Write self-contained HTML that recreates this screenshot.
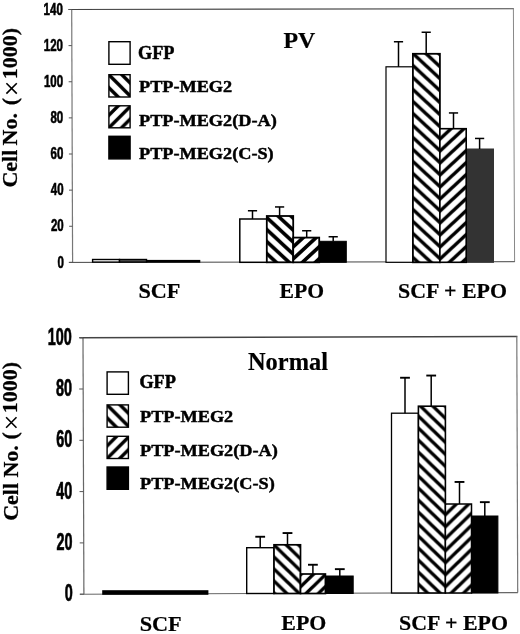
<!DOCTYPE html>
<html><head><meta charset="utf-8"><title>chart</title>
<style>
html,body{margin:0;padding:0;background:#fff;}
body{width:520px;height:634px;overflow:hidden;font-family:"Liberation Sans",sans-serif;}
svg{display:block;will-change:transform;}
</style></head><body>
<svg width="520" height="634" viewBox="0 0 520 634">
<defs>
<pattern id="p0" patternUnits="userSpaceOnUse" width="12.903" height="12.0" x="293.10" y="242.00"><rect width="13.903" height="13.0" fill="#fff"/><path d="M-12.903 -24.000L25.806 12.000M-12.903 -12.000L25.806 24.000M-12.903 0.000L25.806 36.000" stroke="#000" stroke-width="3.6" fill="none"/></pattern>
<pattern id="p1" patternUnits="userSpaceOnUse" width="12.903" height="12.0" x="293.10" y="247.00"><rect width="13.903" height="13.0" fill="#fff"/><path d="M-12.903 12.000L25.806 -24.000M-12.903 24.000L25.806 -12.000M-12.903 36.000L25.806 0.000" stroke="#000" stroke-width="3.6" fill="none"/></pattern>
<pattern id="p2" patternUnits="userSpaceOnUse" width="12.903" height="12.0" x="440.20" y="162.80"><rect width="13.903" height="13.0" fill="#fff"/><path d="M-12.903 -24.000L25.806 12.000M-12.903 -12.000L25.806 24.000M-12.903 0.000L25.806 36.000" stroke="#000" stroke-width="3.45" fill="none"/></pattern>
<pattern id="p3" patternUnits="userSpaceOnUse" width="12.903" height="12.0" x="440.20" y="162.80"><rect width="13.903" height="13.0" fill="#fff"/><path d="M-12.903 12.000L25.806 -24.000M-12.903 24.000L25.806 -12.000M-12.903 36.000L25.806 0.000" stroke="#000" stroke-width="3.45" fill="none"/></pattern>
<pattern id="p4" patternUnits="userSpaceOnUse" width="13.000" height="13.0" x="109.20" y="75.00"><rect width="14.000" height="14.0" fill="#fff"/><path d="M-13.000 -26.000L26.000 13.000M-13.000 -13.000L26.000 26.000M-13.000 0.000L26.000 39.000" stroke="#000" stroke-width="3.4" fill="none"/></pattern>
<pattern id="p5" patternUnits="userSpaceOnUse" width="12.600" height="12.6" x="109.20" y="127.50"><rect width="13.600" height="13.6" fill="#fff"/><path d="M-12.600 12.600L25.200 -25.200M-12.600 25.200L25.200 -12.600M-12.600 37.800L25.200 0.000" stroke="#000" stroke-width="3.4" fill="none"/></pattern>
<pattern id="p6" patternUnits="userSpaceOnUse" width="12.371" height="12.0" x="300.40" y="570.60"><rect width="13.371" height="13.0" fill="#fff"/><path d="M-12.371 -24.000L24.742 12.000M-12.371 -12.000L24.742 24.000M-12.371 0.000L24.742 36.000" stroke="#000" stroke-width="3.4" fill="none"/></pattern>
<pattern id="p7" patternUnits="userSpaceOnUse" width="12.371" height="12.0" x="300.40" y="586.90"><rect width="13.371" height="13.0" fill="#fff"/><path d="M-12.371 12.000L24.742 -24.000M-12.371 24.000L24.742 -12.000M-12.371 36.000L24.742 0.000" stroke="#000" stroke-width="3.4" fill="none"/></pattern>
<pattern id="p8" patternUnits="userSpaceOnUse" width="12.371" height="12.0" x="445.60" y="550.50"><rect width="13.371" height="13.0" fill="#fff"/><path d="M-12.371 -24.000L24.742 12.000M-12.371 -12.000L24.742 24.000M-12.371 0.000L24.742 36.000" stroke="#000" stroke-width="3.4" fill="none"/></pattern>
<pattern id="p9" patternUnits="userSpaceOnUse" width="12.371" height="12.0" x="445.60" y="550.50"><rect width="13.371" height="13.0" fill="#fff"/><path d="M-12.371 12.000L24.742 -24.000M-12.371 24.000L24.742 -12.000M-12.371 36.000L24.742 0.000" stroke="#000" stroke-width="3.4" fill="none"/></pattern>
<pattern id="p10" patternUnits="userSpaceOnUse" width="13.000" height="13.0" x="107.40" y="405.20"><rect width="14.000" height="14.0" fill="#fff"/><path d="M-13.000 -26.000L26.000 13.000M-13.000 -13.000L26.000 26.000M-13.000 0.000L26.000 39.000" stroke="#000" stroke-width="3.4" fill="none"/></pattern>
<pattern id="p11" patternUnits="userSpaceOnUse" width="12.600" height="12.6" x="107.40" y="458.20"><rect width="13.600" height="13.6" fill="#fff"/><path d="M-12.600 12.600L25.200 -25.200M-12.600 25.200L25.200 -12.600M-12.600 37.800L25.200 0.000" stroke="#000" stroke-width="3.4" fill="none"/></pattern>
</defs>

<rect width="520" height="634" fill="#fff"/>

<!-- TOP CHART frame -->
<path d="M71.7 9.5L72.6 262.4" stroke="#777" stroke-width="1.2" fill="none"/>
<path d="M68.5 9.5L513.9 8.7" stroke="#444" stroke-width="1.1" fill="none"/>
<path d="M513.4 8.7L514.6 261.7" stroke="#888" stroke-width="1" fill="none"/>
<path d="M68.8 262.4L514.8 261.7" stroke="#444" stroke-width="1" fill="none"/>
<line x1="69.30" y1="262.40" x2="72.60" y2="262.40" stroke="#555" stroke-width="1"/>
<text transform="translate(63.90,267.53) scale(0.72,1)" text-anchor="end" font-family="Liberation Sans, sans-serif" font-weight="bold" font-size="16" fill="#000" stroke="#000" stroke-width="0.5" vector-effect="non-scaling-stroke">0</text>
<line x1="69.17" y1="226.27" x2="72.47" y2="226.27" stroke="#555" stroke-width="1"/>
<text transform="translate(63.74,231.41) scale(0.72,1)" text-anchor="end" font-family="Liberation Sans, sans-serif" font-weight="bold" font-size="16" fill="#000" stroke="#000" stroke-width="0.5" vector-effect="non-scaling-stroke">20</text>
<line x1="69.04" y1="190.14" x2="72.34" y2="190.14" stroke="#555" stroke-width="1"/>
<text transform="translate(63.59,195.30) scale(0.72,1)" text-anchor="end" font-family="Liberation Sans, sans-serif" font-weight="bold" font-size="16" fill="#000" stroke="#000" stroke-width="0.5" vector-effect="non-scaling-stroke">40</text>
<line x1="68.91" y1="154.01" x2="72.21" y2="154.01" stroke="#555" stroke-width="1"/>
<text transform="translate(63.43,159.18) scale(0.72,1)" text-anchor="end" font-family="Liberation Sans, sans-serif" font-weight="bold" font-size="16" fill="#000" stroke="#000" stroke-width="0.5" vector-effect="non-scaling-stroke">60</text>
<line x1="68.79" y1="117.88" x2="72.09" y2="117.88" stroke="#555" stroke-width="1"/>
<text transform="translate(63.27,123.07) scale(0.72,1)" text-anchor="end" font-family="Liberation Sans, sans-serif" font-weight="bold" font-size="16" fill="#000" stroke="#000" stroke-width="0.5" vector-effect="non-scaling-stroke">80</text>
<line x1="68.66" y1="81.75" x2="71.96" y2="81.75" stroke="#555" stroke-width="1"/>
<text transform="translate(63.11,86.95) scale(0.72,1)" text-anchor="end" font-family="Liberation Sans, sans-serif" font-weight="bold" font-size="16" fill="#000" stroke="#000" stroke-width="0.5" vector-effect="non-scaling-stroke">100</text>
<line x1="68.53" y1="45.62" x2="71.83" y2="45.62" stroke="#555" stroke-width="1"/>
<text transform="translate(62.96,50.83) scale(0.72,1)" text-anchor="end" font-family="Liberation Sans, sans-serif" font-weight="bold" font-size="16" fill="#000" stroke="#000" stroke-width="0.5" vector-effect="non-scaling-stroke">120</text>
<line x1="68.40" y1="9.49" x2="71.70" y2="9.49" stroke="#555" stroke-width="1"/>
<text transform="translate(62.80,14.72) scale(0.72,1)" text-anchor="end" font-family="Liberation Sans, sans-serif" font-weight="bold" font-size="16" fill="#000" stroke="#000" stroke-width="0.5" vector-effect="non-scaling-stroke">140</text>
<!-- top SCF bars -->
<rect x="92.6" y="259.5" width="26.9" height="2.6" fill="#fff" stroke="#000" stroke-width="1.4"/>
<rect x="119.5" y="259.5" width="27" height="2.6" fill="#555" stroke="#000" stroke-width="1.4"/>
<rect x="146.5" y="259.9" width="53.8" height="2.8" fill="#000"/>
<rect x="319.20" y="241.30" width="27.10" height="21.00" fill="#000" stroke="#000" stroke-width="1.0"/>
<rect x="239.80" y="219.00" width="27.00" height="43.30" fill="#fff" stroke="#000" stroke-width="1.5"/>
<rect x="266.80" y="216.00" width="26.40" height="46.30" fill="url(#p0)" stroke="#000" stroke-width="1.8"/>
<rect x="293.20" y="237.60" width="26.00" height="24.70" fill="url(#p1)" stroke="#000" stroke-width="1.8"/>
<path d="M252.50 219.00V210.75" stroke="#000" stroke-width="1.5" fill="none"/>
<path d="M247.90 210.75H257.10" stroke="#000" stroke-width="1.5" fill="none"/>
<path d="M279.60 216.00V206.95" stroke="#000" stroke-width="1.5" fill="none"/>
<path d="M275.00 206.95H284.20" stroke="#000" stroke-width="1.5" fill="none"/>
<path d="M306.70 237.60V230.75" stroke="#000" stroke-width="1.5" fill="none"/>
<path d="M302.10 230.75H311.30" stroke="#000" stroke-width="1.5" fill="none"/>
<path d="M333.20 241.30V236.75" stroke="#000" stroke-width="1.5" fill="none"/>
<path d="M328.60 236.75H337.80" stroke="#000" stroke-width="1.5" fill="none"/>
<rect x="466.20" y="149.00" width="27.30" height="113.30" fill="#333" stroke="#333" stroke-width="1.0"/>
<rect x="386.00" y="66.80" width="26.90" height="195.50" fill="#fff" stroke="#000" stroke-width="1.2"/>
<rect x="412.90" y="53.80" width="27.00" height="208.50" fill="url(#p2)" stroke="#000" stroke-width="1.8"/>
<rect x="439.90" y="128.70" width="26.30" height="133.60" fill="url(#p3)" stroke="#000" stroke-width="1.6"/>
<path d="M398.50 66.80V41.75" stroke="#000" stroke-width="1.5" fill="none"/>
<path d="M393.90 41.75H403.10" stroke="#000" stroke-width="1.5" fill="none"/>
<path d="M426.20 53.80V32.25" stroke="#000" stroke-width="1.5" fill="none"/>
<path d="M421.60 32.25H430.80" stroke="#000" stroke-width="1.5" fill="none"/>
<path d="M453.50 128.70V112.95" stroke="#000" stroke-width="1.5" fill="none"/>
<path d="M448.90 112.95H458.10" stroke="#000" stroke-width="1.5" fill="none"/>
<path d="M479.60 149.00V138.45" stroke="#000" stroke-width="1.5" fill="none"/>
<path d="M475.00 138.45H484.20" stroke="#000" stroke-width="1.5" fill="none"/>
<rect x="108.90" y="41.70" width="21.20" height="22.60" fill="#fff" stroke="#000" stroke-width="1.4"/>
<text transform="translate(138.0,59.3) scale(1,1.05)" font-family="Liberation Serif, serif" font-weight="bold" font-size="18.25" fill="#000" stroke="#000" stroke-width="0.5" stroke-linejoin="round">GFP</text>
<rect x="108.90" y="74.70" width="21.20" height="22.30" fill="url(#p4)" stroke="#000" stroke-width="1.4"/>
<text transform="translate(139.0,91.9) scale(1,0.95)" font-family="Liberation Serif, serif" font-weight="bold" font-size="18.25" fill="#000" stroke="#000" stroke-width="0.5" stroke-linejoin="round">PTP-MEG2</text>
<rect x="108.90" y="105.80" width="21.20" height="22.00" fill="url(#p5)" stroke="#000" stroke-width="1.4"/>
<text transform="translate(139.0,126.2) scale(1,0.95)" font-family="Liberation Serif, serif" font-weight="bold" font-size="18.25" fill="#000" stroke="#000" stroke-width="0.5" stroke-linejoin="round">PTP-MEG2(D-A)</text>
<rect x="108.90" y="136.30" width="21.20" height="22.60" fill="#000" stroke="#000" stroke-width="1.4"/>
<text transform="translate(139.0,158.9) scale(1,0.95)" font-family="Liberation Serif, serif" font-weight="bold" font-size="18.25" fill="#000" stroke="#000" stroke-width="0.5" stroke-linejoin="round">PTP-MEG2(C-S)</text>
<text x="283.5" y="47.5" font-family="Liberation Serif, serif" font-weight="bold" font-size="23.9" fill="#000" stroke="#000" stroke-width="0.2">PV</text>
<text x="159.4" y="298" text-anchor="middle" font-family="Liberation Serif, serif" font-weight="bold" font-size="20" textLength="42" lengthAdjust="spacingAndGlyphs" fill="#000" stroke="#000" stroke-width="0.2">SCF</text>
<text x="301.8" y="297.8" text-anchor="middle" font-family="Liberation Serif, serif" font-weight="bold" font-size="20" textLength="44.5" lengthAdjust="spacingAndGlyphs" fill="#000" stroke="#000" stroke-width="0.2">EPO</text>
<text x="452.5" y="297.6" text-anchor="middle" font-family="Liberation Serif, serif" font-weight="bold" font-size="20" textLength="109" lengthAdjust="spacingAndGlyphs" fill="#000" stroke="#000" stroke-width="0.2">SCF + EPO</text>
<text transform="translate(16.7,187.6) rotate(-90)" font-family="Liberation Serif, serif" font-weight="bold" font-size="22" fill="#000" stroke="#000" stroke-width="0.25">Cell</text>
<text transform="translate(16.7,145.4) rotate(-90)" font-family="Liberation Serif, serif" font-weight="bold" font-size="22" fill="#000" stroke="#000" stroke-width="0.25">No.</text>
<text transform="translate(16.7,105.2) rotate(-90)" font-family="Liberation Serif, serif" font-weight="bold" font-size="22" fill="#000" stroke="#000" stroke-width="0.25">(</text>
<path d="M6.3999999999999995 83.2L16.8 93.60000000000001M6.3999999999999995 93.60000000000001L16.8 83.2" stroke="#000" stroke-width="1.6" fill="none"/>
<text transform="translate(16.7,79.2) rotate(-90)" font-family="Liberation Serif, serif" font-weight="bold" font-size="22" fill="#000" stroke="#000" stroke-width="0.25">1000)</text>

<!-- BOTTOM CHART frame -->
<path d="M83 337.7L83.9 594.2" stroke="#666" stroke-width="1.2" fill="none"/>
<path d="M79.5 337.7L517.4 336.5" stroke="#444" stroke-width="1.4" fill="none"/>
<path d="M516.8 336.5L517.7 592.6" stroke="#777" stroke-width="1.2" fill="none"/>
<path d="M79.8 594.2L517.9 592.6" stroke="#666" stroke-width="1.1" fill="none"/>
<line x1="79.90" y1="594.20" x2="83.90" y2="594.20" stroke="#555" stroke-width="1"/>
<text transform="translate(72.70,600.99) scale(0.6,1)" text-anchor="end" font-family="Liberation Sans, sans-serif" font-weight="bold" font-size="24" fill="#000" stroke="#000" stroke-width="0.6" vector-effect="non-scaling-stroke">0</text>
<line x1="79.72" y1="542.90" x2="83.72" y2="542.90" stroke="#555" stroke-width="1"/>
<text transform="translate(72.52,549.75) scale(0.6,1)" text-anchor="end" font-family="Liberation Sans, sans-serif" font-weight="bold" font-size="24" fill="#000" stroke="#000" stroke-width="0.6" vector-effect="non-scaling-stroke">20</text>
<line x1="79.54" y1="491.60" x2="83.54" y2="491.60" stroke="#555" stroke-width="1"/>
<text transform="translate(72.34,498.51) scale(0.6,1)" text-anchor="end" font-family="Liberation Sans, sans-serif" font-weight="bold" font-size="24" fill="#000" stroke="#000" stroke-width="0.6" vector-effect="non-scaling-stroke">40</text>
<line x1="79.36" y1="440.30" x2="83.36" y2="440.30" stroke="#555" stroke-width="1"/>
<text transform="translate(72.16,447.27) scale(0.6,1)" text-anchor="end" font-family="Liberation Sans, sans-serif" font-weight="bold" font-size="24" fill="#000" stroke="#000" stroke-width="0.6" vector-effect="non-scaling-stroke">60</text>
<line x1="79.18" y1="389.00" x2="83.18" y2="389.00" stroke="#555" stroke-width="1"/>
<text transform="translate(71.98,396.03) scale(0.6,1)" text-anchor="end" font-family="Liberation Sans, sans-serif" font-weight="bold" font-size="24" fill="#000" stroke="#000" stroke-width="0.6" vector-effect="non-scaling-stroke">80</text>
<line x1="79.00" y1="337.70" x2="83.00" y2="337.70" stroke="#555" stroke-width="1"/>
<text transform="translate(71.80,344.79) scale(0.6,1)" text-anchor="end" font-family="Liberation Sans, sans-serif" font-weight="bold" font-size="24" fill="#000" stroke="#000" stroke-width="0.6" vector-effect="non-scaling-stroke">100</text>
<rect x="102.2" y="590.2" width="106.2" height="4.6" fill="#000"/>
<rect x="325.40" y="576.00" width="27.80" height="17.50" fill="#000" stroke="#000" stroke-width="1.0"/>
<rect x="246.70" y="547.70" width="27.30" height="45.80" fill="#fff" stroke="#000" stroke-width="1.4"/>
<rect x="274.00" y="544.80" width="26.50" height="48.70" fill="url(#p6)" stroke="#000" stroke-width="1.7"/>
<rect x="300.50" y="574.00" width="24.90" height="19.50" fill="url(#p7)" stroke="#000" stroke-width="1.7"/>
<path d="M260.20 547.70V536.75" stroke="#000" stroke-width="1.5" fill="none"/>
<path d="M255.30 536.75H265.10" stroke="#000" stroke-width="1.9" fill="none"/>
<path d="M287.50 544.80V533.05" stroke="#000" stroke-width="1.5" fill="none"/>
<path d="M282.60 533.05H292.40" stroke="#000" stroke-width="1.9" fill="none"/>
<path d="M312.90 574.00V564.75" stroke="#000" stroke-width="1.5" fill="none"/>
<path d="M308.00 564.75H317.80" stroke="#000" stroke-width="1.9" fill="none"/>
<path d="M339.80 576.00V569.15" stroke="#000" stroke-width="1.5" fill="none"/>
<path d="M334.90 569.15H344.70" stroke="#000" stroke-width="1.9" fill="none"/>
<rect x="471.50" y="516.00" width="26.40" height="77.00" fill="#000" stroke="#000" stroke-width="1.0"/>
<rect x="391.50" y="413.20" width="26.90" height="179.80" fill="#fff" stroke="#000" stroke-width="1.3"/>
<rect x="418.40" y="406.20" width="27.00" height="186.80" fill="url(#p8)" stroke="#000" stroke-width="1.6"/>
<rect x="445.40" y="504.00" width="26.10" height="89.00" fill="url(#p9)" stroke="#000" stroke-width="1.5"/>
<path d="M405.00 413.20V377.75" stroke="#000" stroke-width="1.5" fill="none"/>
<path d="M400.10 377.75H409.90" stroke="#000" stroke-width="1.9" fill="none"/>
<path d="M431.20 406.20V375.55" stroke="#000" stroke-width="1.5" fill="none"/>
<path d="M426.30 375.55H436.10" stroke="#000" stroke-width="1.9" fill="none"/>
<path d="M459.50 504.00V481.95" stroke="#000" stroke-width="1.5" fill="none"/>
<path d="M454.60 481.95H464.40" stroke="#000" stroke-width="1.9" fill="none"/>
<path d="M484.80 516.00V502.15" stroke="#000" stroke-width="1.5" fill="none"/>
<path d="M479.90 502.15H489.70" stroke="#000" stroke-width="1.9" fill="none"/>
<rect x="107.10" y="371.90" width="21.30" height="22.40" fill="#fff" stroke="#000" stroke-width="1.4"/>
<text transform="translate(139.4,388.4) scale(1,1.01)" font-family="Liberation Serif, serif" font-weight="bold" font-size="18.25" fill="#000" stroke="#000" stroke-width="0.5" stroke-linejoin="round">GFP</text>
<rect x="107.10" y="404.90" width="21.30" height="22.30" fill="url(#p10)" stroke="#000" stroke-width="1.4"/>
<text transform="translate(140,422.2) scale(1,0.97)" font-family="Liberation Serif, serif" font-weight="bold" font-size="18.25" fill="#000" stroke="#000" stroke-width="0.5" stroke-linejoin="round">PTP-MEG2</text>
<rect x="107.10" y="436.30" width="21.30" height="22.20" fill="url(#p11)" stroke="#000" stroke-width="1.4"/>
<text transform="translate(140,456.2) scale(1,0.97)" font-family="Liberation Serif, serif" font-weight="bold" font-size="18.25" fill="#000" stroke="#000" stroke-width="0.5" stroke-linejoin="round">PTP-MEG2(D-A)</text>
<rect x="107.10" y="467.00" width="21.30" height="22.30" fill="#000" stroke="#000" stroke-width="1.4"/>
<text transform="translate(140,489.4) scale(1,0.97)" font-family="Liberation Serif, serif" font-weight="bold" font-size="18.25" fill="#000" stroke="#000" stroke-width="0.5" stroke-linejoin="round">PTP-MEG2(C-S)</text>
<text x="248" y="369.6" font-family="Liberation Serif, serif" font-weight="bold" font-size="24.4" fill="#000" stroke="#000" stroke-width="0.2">Normal</text>
<text x="160.7" y="630.5" text-anchor="middle" font-family="Liberation Serif, serif" font-weight="bold" font-size="20" textLength="42" lengthAdjust="spacingAndGlyphs" fill="#000" stroke="#000" stroke-width="0.2">SCF</text>
<text x="303.8" y="630.2" text-anchor="middle" font-family="Liberation Serif, serif" font-weight="bold" font-size="20" textLength="45" lengthAdjust="spacingAndGlyphs" fill="#000" stroke="#000" stroke-width="0.2">EPO</text>
<text x="453.5" y="630" text-anchor="middle" font-family="Liberation Serif, serif" font-weight="bold" font-size="20" textLength="109" lengthAdjust="spacingAndGlyphs" fill="#000" stroke="#000" stroke-width="0.2">SCF + EPO</text>
<text transform="translate(18.2,520.8) rotate(-90)" font-family="Liberation Serif, serif" font-weight="bold" font-size="22" fill="#000" stroke="#000" stroke-width="0.25">Cell</text>
<text transform="translate(18.2,477.6) rotate(-90)" font-family="Liberation Serif, serif" font-weight="bold" font-size="22" fill="#000" stroke="#000" stroke-width="0.25">No.</text>
<text transform="translate(16.8,439.6) rotate(-90)" font-family="Liberation Serif, serif" font-weight="bold" font-size="22" fill="#000" stroke="#000" stroke-width="0.25">(</text>
<path d="M6.1000000000000005 417.3L16.5 427.7M6.1000000000000005 427.7L16.5 417.3" stroke="#000" stroke-width="1.6" fill="none"/>
<text transform="translate(16.8,413.3) rotate(-90)" font-family="Liberation Serif, serif" font-weight="bold" font-size="22" fill="#000" stroke="#000" stroke-width="0.25">1000)</text>

</svg>
</body></html>
